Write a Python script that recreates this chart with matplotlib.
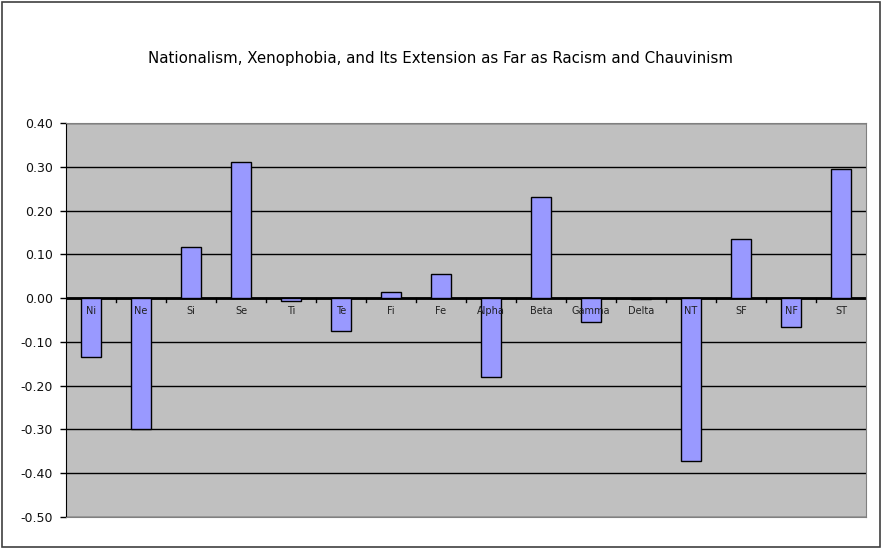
import matplotlib
matplotlib.use("Agg")
import matplotlib.pyplot as plt
from matplotlib.patches import Rectangle
import matplotlib.transforms as mtransforms

categories = ["Ni", "Ne", "Si", "Se", "Ti", "Te", "Fi", "Fe", "Alpha", "Beta",
              "Gamma", "Delta", "NT", "SF", "NF", "ST"]
values = [-0.135, -0.30, 0.117, 0.311, -0.006, -0.075, 0.014, 0.055, -0.180, 0.230,
          -0.054, -0.003, -0.372, 0.135, -0.066, 0.294]
yticks = [0.40, 0.30, 0.20, 0.10, 0.00, -0.10, -0.20, -0.30, -0.40, -0.50]
title = "Nationalism, Xenophobia, and Its Extension as Far as Racism and Chauvinism"

plt.rcParams['font.family'] = ['DejaVu Sans']

fig = plt.figure(figsize=(8.82, 5.48), dpi=100)
fig.patch.set_facecolor("white")
fig.patches.append(Rectangle((0.002, 0.002), 0.996, 0.995, transform=fig.transFigure,
                             fill=False, edgecolor="#404040", linewidth=1.2))

ax = fig.add_axes([66/882, 1-517/548, 800/882, (517-123)/548])
ax.set_facecolor("#c0c0c0")

x = list(range(len(categories)))
ax.bar(x, values, width=0.4, color="#9999ff", edgecolor="black", linewidth=1, zorder=3)

ax.set_xlim(-0.5, len(categories) - 0.5)
ax.set_ylim(-0.5, 0.4)
ax.set_yticks(yticks)
ax.set_yticklabels([f"{v:.2f}" for v in yticks], fontsize=9, color="#101010")
ax.yaxis.grid(True, color="black", linewidth=1)
ax.set_axisbelow(True)
ax.tick_params(axis="y", direction="out", length=4.3, width=1, pad=5)

ax.axhline(0, color="black", linewidth=2, zorder=2.5)

ax.set_xticks([])
for i in range(len(categories) - 1):
    ax.plot([i + 0.5, i + 0.5], [0, -0.009], color="black", linewidth=1, zorder=4,
            clip_on=False)

offset = mtransforms.offset_copy(ax.transData, fig=fig, x=0, y=-13, units="dots")
for xi, lab in zip(x, categories):
    ax.text(xi, 0, lab, transform=offset, ha="center", va="center",
            fontsize=7, color="#202020", zorder=5)

for side in ["top", "right"]:
    ax.spines[side].set_color("#808080")
ax.spines["left"].set_color("black")
ax.spines["bottom"].set_color("#808080")

fig.text(440/882, 1-58/548, title, ha="center", va="center", fontsize=10.8)

fig.savefig("out.png", dpi=100)
